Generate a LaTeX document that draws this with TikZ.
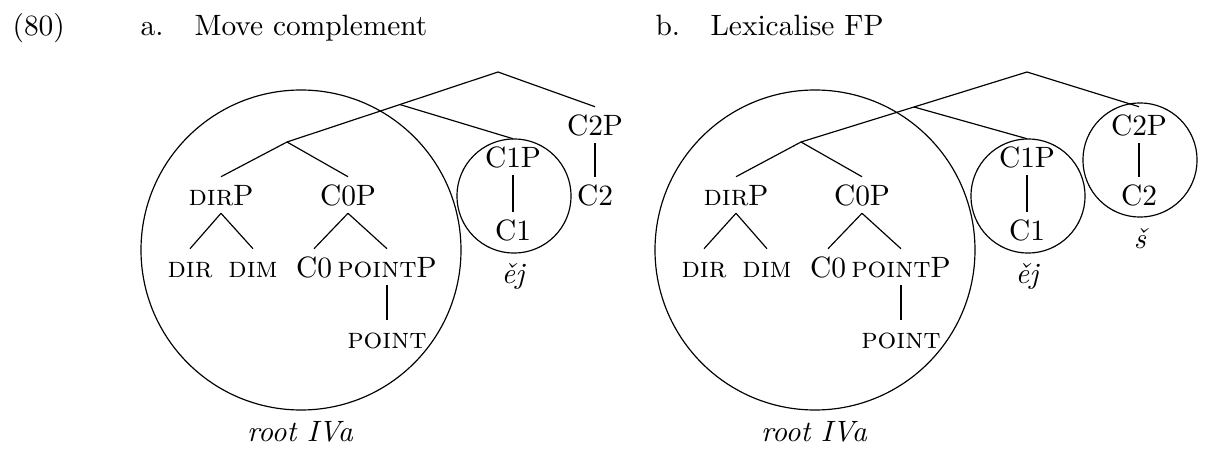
\documentclass[tikz,border=0pt]{standalone}
\usepackage{fontspec}
\usetikzlibrary{calc,positioning}
\tikzset{
  lbl/.style={inner xsep=1pt, inner ysep=2.6pt, text height=6.83pt, text depth=0pt},
  gloss/.style={anchor=base, inner sep=0pt, font=\itshape},
  head/.style={anchor=base west, inner sep=0pt},
  branch/.style={line width=0.4pt},
}
\begin{document}
\begin{tikzpicture}[x=0.34pt, y=-0.34pt]
  \useasboundingbox (0,0) rectangle (1211,455);
  % Headings
  \node[head] (num) at (12,36) {(80)};
  \node[head] (itemA) at (140,36) {a.};
  \node[head] (titleA) at (194,36) {Move complement};
  \node[head] (itemB) at (655,36) {b.};
  \node[head] (titleB) at (710,36) {Lexicalise FP};

  % (a) branch points
  \coordinate (apexA) at (498,72);
  \coordinate (xTwoA) at (287,142);
  \coordinate (xOneA) at ($(xTwoA)!0.535!(apexA)$);
  % (a) labels
  \node[lbl] (ctwoPA) at (595,125) {C2P};
  \node[lbl] (ctwoA) at (595,195) {C2};
  \node[lbl] (conePA) at (513,157) {C1P};
  \node[lbl] (coneA) at (513,230) {C1};
  \node[lbl] (dirPA) at (221,195) {\textsc{dir}P};
  \node[lbl] (czeroPA) at (348,195) {C0P};
  \node[lbl] (dirA) at (190,267) {\textsc{dir}};
  \node[lbl] (dimA) at (253,267) {\textsc{dim}};
  \node[lbl] (czeroA) at (314,267) {C0};
  \node[lbl] (pointPA) at (387,267) {\textsc{point}P};
  \node[lbl] (pointA) at (387,338) {\textsc{point}};
  % (a) branches
  \draw[branch] (apexA) -- (xTwoA);
  \draw[branch] (apexA) -- (ctwoPA.north);
  \draw[branch] (xOneA) -- (conePA.north);
  \draw[branch] (xTwoA) -- (dirPA.north);
  \draw[branch] (xTwoA) -- (czeroPA.north);
  \draw[branch] (dirPA.south) -- (dirA.north);
  \draw[branch] (dirPA.south) -- (dimA.north);
  \draw[branch] (czeroPA.south) -- (czeroA.north);
  \draw[branch] (czeroPA.south) -- (pointPA.north);
  \draw[branch] (pointPA.south) -- (pointA.north);
  \draw[branch] (conePA.south) -- (coneA.north);
  \draw[branch] (ctwoPA.south) -- (ctwoA.north);
  % (a) circles and glosses
  \draw[branch] (301,250) circle (54.4pt);
  \draw[branch] (514,196) circle (19.4pt);
  \node[gloss] (rootA) at (300,441) {root IVa};
  \node[gloss] (ejA) at (513,283) {ěj};

  % (b) branch points
  \coordinate (apexB) at (1027,72);
  \coordinate (xTwoB) at (801,142);
  \coordinate (xOneB) at ($(xTwoB)!0.50!(apexB)$);
  % (b) labels
  \node[lbl] (ctwoPB) at (1139,125) {C2P};
  \node[lbl] (ctwoB) at (1139,195) {C2};
  \node[lbl] (conePB) at (1027,157) {C1P};
  \node[lbl] (coneB) at (1027,230) {C1};
  \node[lbl] (dirPB) at (736,195) {\textsc{dir}P};
  \node[lbl] (czeroPB) at (862,195) {C0P};
  \node[lbl] (dirB) at (704,267) {\textsc{dir}};
  \node[lbl] (dimB) at (767,267) {\textsc{dim}};
  \node[lbl] (czeroB) at (828,267) {C0};
  \node[lbl] (pointPB) at (901,267) {\textsc{point}P};
  \node[lbl] (pointB) at (901,338) {\textsc{point}};
  % (b) branches
  \draw[branch] (apexB) -- (xTwoB);
  \draw[branch] (apexB) -- (ctwoPB.north);
  \draw[branch] (xOneB) -- (conePB.north);
  \draw[branch] (xTwoB) -- (dirPB.north);
  \draw[branch] (xTwoB) -- (czeroPB.north);
  \draw[branch] (dirPB.south) -- (dirB.north);
  \draw[branch] (dirPB.south) -- (dimB.north);
  \draw[branch] (czeroPB.south) -- (czeroB.north);
  \draw[branch] (czeroPB.south) -- (pointPB.north);
  \draw[branch] (pointPB.south) -- (pointB.north);
  \draw[branch] (conePB.south) -- (coneB.north);
  \draw[branch] (ctwoPB.south) -- (ctwoB.north);
  % (b) circles and glosses
  \draw[branch] (815,250) circle (54.4pt);
  \draw[branch] (1028,196) circle (19.4pt);
  \draw[branch] (1140,160) circle (19.4pt);
  \node[gloss] (rootB) at (814,441) {root IVa};
  \node[gloss] (ejB) at (1027,283) {ěj};
  \node[gloss] (shB) at (1140,248) {š};
\end{tikzpicture}
\end{document}
